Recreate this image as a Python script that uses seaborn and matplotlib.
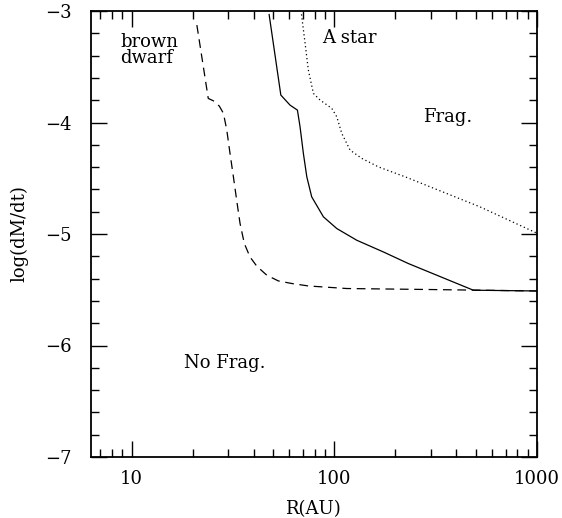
import numpy as np
import pandas as pd
import matplotlib
matplotlib.use("Agg")
import matplotlib.pyplot as plt
import seaborn as sns
from matplotlib.ticker import LogLocator, MultipleLocator, FixedLocator, FixedFormatter

# ---- data ----
bd_R = [21.0, 23.9, 25.3, 27.1, 28.4, 29.5, 30.6, 31.8, 33.0, 34.3, 36.0, 38.4, 41.5,
        46.5, 53.0, 61.7, 74.5, 115.3, 297.0, 1000.0]
bd_y = [-3.126, -3.784, -3.805, -3.853, -3.918, -4.068, -4.277, -4.487, -4.696, -4.906,
        -5.085, -5.206, -5.289, -5.370, -5.421, -5.444, -5.466, -5.489, -5.498, -5.511]

mid_R = [47.7, 54.5, 60.5, 65.8, 67.8, 70.4, 73.2, 77.4, 88.4, 102.9, 129.1, 174.7,
         232.0, 485.0, 1000.0]
mid_y = [-3.03, -3.754, -3.844, -3.889, -4.039, -4.277, -4.487, -4.667, -4.846, -4.951,
         -5.056, -5.161, -5.265, -5.504, -5.511]

astar_R = [68.9, 71.8, 74.5, 78.9, 85.1, 97.2, 102.9, 108.9, 119.7, 136.7, 165.1, 223.6,
           297.0, 524.0, 1000.0]
astar_y = [-3.03, -3.290, -3.530, -3.739, -3.799, -3.873, -3.949, -4.098, -4.248, -4.322,
           -4.398, -4.487, -4.577, -4.757, -4.993]

x_ticks = [10, 100, 1000]
x_ticklabels = ["10", "100", "1000"]
y_ticks = [-7, -6, -5, -4, -3]
y_ticklabels = ["\u22127", "\u22126", "\u22125", "\u22124", "\u22123"]

sns.set_style("ticks")
plt.rcParams['font.family'] = ['DejaVu Serif']
plt.rcParams['axes.unicode_minus'] = True
for k in ['text.color', 'axes.labelcolor', 'xtick.color', 'ytick.color', 'axes.edgecolor']:
    plt.rcParams[k] = 'black'

fig = plt.figure(figsize=(5.62, 5.18), dpi=100)
ax = fig.add_axes([91/562, 1-457/518, (537-91)/562, (457-11)/518])

lw = 0.9
sns.lineplot(x=bd_R, y=bd_y, ax=ax, color='black', lw=lw, sort=False, estimator=None,
             linestyle=(0, (7, 4.5)))
sns.lineplot(x=mid_R, y=mid_y, ax=ax, color='black', lw=lw, sort=False, estimator=None)
sns.lineplot(x=astar_R, y=astar_y, ax=ax, color='black', lw=lw, sort=False, estimator=None,
             linestyle=(0, (1, 2.2)))

ax.set_xscale('log')
ax.set_xlim(6.31, 1000)
ax.set_ylim(-7, -3)

ax.xaxis.set_major_locator(FixedLocator(x_ticks))
ax.xaxis.set_major_formatter(FixedFormatter(x_ticklabels))
ax.xaxis.set_minor_locator(LogLocator(base=10, subs=np.arange(2, 10), numticks=20))
ax.xaxis.set_minor_formatter(plt.NullFormatter())
ax.yaxis.set_major_locator(FixedLocator(y_ticks))
ax.yaxis.set_major_formatter(FixedFormatter(y_ticklabels))
ax.yaxis.set_minor_locator(MultipleLocator(0.2))

for s in ax.spines.values():
    s.set_visible(True)
    s.set_linewidth(1.3)
    s.set_color('black')

ax.tick_params(which='both', direction='in', top=True, right=True, color='black', width=1.0)
ax.tick_params(which='major', length=11.5)
ax.tick_params(which='minor', length=5.5)
ax.tick_params(axis='y', which='major', pad=14, labelsize=13, labelcolor='black')
ax.tick_params(axis='x', which='major', pad=9, labelsize=13, labelcolor='black')

ax.set_xlabel("R(AU)", fontsize=13, color='black')
ax.set_ylabel("log(dM/dt)", fontsize=13, color='black')
ax.xaxis.set_label_coords(0.497, -0.096)
ax.yaxis.set_label_coords(-0.14, 0.5)

fs = 13
ax.text(8.77, -3.319, "brown", fontsize=fs, ha='left', va='baseline', color='black')
ax.text(8.77, -3.469, "dwarf", fontsize=fs, ha='left', va='baseline', color='black')
ax.text(86.7, -3.287, "A star", fontsize=fs, ha='left', va='baseline', color='black')
ax.text(274, -3.994, "Frag.", fontsize=fs, ha='left', va='baseline', color='black')
ax.text(18.15, -6.199, "No Frag.", fontsize=fs, ha='left', va='baseline', color='black')

fig.savefig("out.png", dpi=100)
